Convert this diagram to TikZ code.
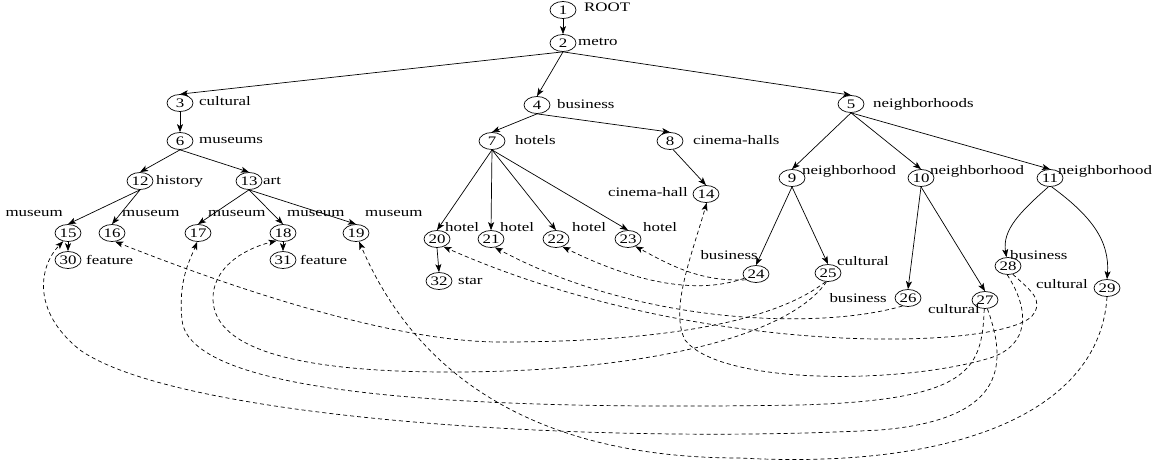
\documentclass[tikz,border=0pt]{standalone}
\usepackage{fontspec}
\setmainfont{Liberation Serif}[FakeStretch=1.3]
\usetikzlibrary{arrows.meta,shapes.geometric}
\begin{document}
\begin{tikzpicture}[x=1pt,y=-1pt,
  nd/.style={draw,ellipse,line width=0.7pt,minimum width=26pt,minimum height=17pt,inner sep=0pt,font=\fontsize{13}{13}\selectfont},
  lw/.style={inner sep=0pt,anchor=mid west,font=\fontsize{13}{13}\selectfont},
  le/.style={inner sep=0pt,anchor=mid east,font=\fontsize{13}{13}\selectfont},
  ed/.style={-{Stealth[length=8pt,width=6pt,inset=2pt]},line width=0.7pt},
  xr/.style={ed,dash pattern=on 4pt off 3pt}]
\path[use as bounding box] (0,0) rectangle (1158,461);
% nodes
\node[nd] (n1) at (563,10) {1};
\node[nd] (n2) at (563,43) {2};
\node[nd] (n3) at (180,103) {3};
\node[nd] (n4) at (537,105) {4};
\node[nd] (n5) at (851,104) {5};
\node[nd] (n6) at (180,141) {6};
\node[nd] (n7) at (492,141) {7};
\node[nd] (n8) at (670,141) {8};
\node[nd] (n9) at (792,178) {9};
\node[nd] (n10) at (921,178) {10};
\node[nd] (n11) at (1050,178) {11};
\node[nd] (n12) at (140,181) {12};
\node[nd] (n13) at (249,181) {13};
\node[nd] (n14) at (706,194) {14};
\node[nd] (n15) at (68,233) {15};
\node[nd] (n16) at (112,233) {16};
\node[nd] (n17) at (198,233) {17};
\node[nd] (n18) at (283,233) {18};
\node[nd] (n19) at (356,233) {19};
\node[nd] (n20) at (437,239) {20};
\node[nd] (n21) at (491,239) {21};
\node[nd] (n22) at (556,239) {22};
\node[nd] (n23) at (628,239) {23};
\node[nd] (n24) at (756,274) {24};
\node[nd] (n25) at (828,273) {25};
\node[nd] (n26) at (908,298) {26};
\node[nd] (n27) at (985,300) {27};
\node[nd] (n28) at (1008,266) {28};
\node[nd] (n29) at (1107,288) {29};
\node[nd] (n30) at (68,260) {30};
\node[nd] (n31) at (283,260) {31};
\node[nd] (n32) at (439,281) {32};
% labels
\node[lw] (l1) at (584,9) {ROOT};
\node[lw] (l2) at (578,43) {metro};
\node[lw] (l3) at (199,103) {cultural};
\node[lw] (l4) at (557,106) {business};
\node[lw] (l5) at (873,105) {neighborhoods};
\node[lw] (l6) at (199,141) {museums};
\node[lw] (l7) at (515,142) {hotels};
\node[lw] (l8) at (693,142) {cinema-halls};
\node[lw] (l9) at (802,172) {neighborhood};
\node[lw] (l10) at (930,172) {neighborhood};
\node[lw] (l11) at (1058,172) {neighborhood};
\node[lw] (l12) at (156,182) {history};
\node[lw] (l13) at (263,182) {art};
\node[le] (l14) at (688,194) {cinema-hall};
\node[le] (l15) at (63,214) {museum};
\node[lw] (l16) at (122,214) {museum};
\node[lw] (l17) at (208,214) {museum};
\node[lw] (l18) at (287,214) {museum};
\node[lw] (l19) at (365,214) {museum};
\node[lw] (l20) at (445,229) {hotel};
\node[lw] (l21) at (500,229) {hotel};
\node[lw] (l22) at (572,229) {hotel};
\node[lw] (l23) at (643,229) {hotel};
\node[le] (l24) at (758,257) {business};
\node[lw] (l25) at (837,263) {cultural};
\node[le] (l26) at (887,300) {business};
\node[le] (l27) at (980,311) {cultural};
\node[lw] (l28) at (1010,257) {business};
\node[le] (l29) at (1088,286) {cultural};
\node[lw] (l30) at (86,262) {feature};
\node[lw] (l31) at (300,262) {feature};
\node[lw] (l32) at (458,282) {star};
% tree edges
\draw[ed] (n1.south) -- (n2.north);
\draw[ed] (n2.south) -- (n3.north);
\draw[ed] (n2.south) -- (n4.north);
\draw[ed] (n2.south) -- (n5.north);
\draw[ed] (n3.south) -- (n6.north);
\draw[ed] (n4.south) -- (n7.north);
\draw[ed] (n4.south) -- (n8.north);
\draw[ed] (n5.south) -- (n9.north);
\draw[ed] (n5.south) -- (n10.north);
\draw[ed] (n5.south) -- (n11.north);
\draw[ed] (n6.south) -- (n12.north);
\draw[ed] (n6.south) -- (n13.north);
\draw[ed] (n7.south) -- (n20.north);
\draw[ed] (n7.south) -- (n21.north);
\draw[ed] (n7.south) -- (n22.north);
\draw[ed] (n7.south) -- (n23.north);
\draw[ed] (n8.-70) -- (n14.north);
\draw[ed] (n9.south) -- (n24.north);
\draw[ed] (n9.south) -- (n25.north);
\draw[ed] (n10.south) -- (n26.north);
\draw[ed] (n10.south) -- (n27.north);
\draw[ed] (n11.-100) .. controls (1020,212) and (1002,230) .. (n28.100);
\draw[ed] (n11.-80) .. controls (1090,215) and (1110,240) .. (n29.north);
\draw[ed] (n12.south) -- (n15.north);
\draw[ed] (n12.south) -- (n16.north);
\draw[ed] (n13.south) -- (n17.north);
\draw[ed] (n13.south) -- (n18.north);
\draw[ed] (n13.south) -- (n19.north);
\draw[ed] (n15.south) -- (n30.north);
\draw[ed] (n18.south) -- (n31.north);
\draw[ed] (n20.south) -- (n32.north);
% cross links
\draw[xr] (n24.210) .. controls (700,282) and (670,265) .. (n23.-45);
\draw[xr] (n24.200) .. controls (700,294) and (640,285) .. (n22.-50);
\draw[xr] (n26.235) .. controls (820,330) and (640,325) .. (n21.-65);
\draw[xr] (n28.-60) .. controls (1030,290) and (1045,300) .. (1032,316)
  .. controls (1000,350) and (700,360) .. (n20.-50);
\draw[xr] (n28.-95) .. controls (1030,310) and (1030,345) .. (990,358)
  .. controls (900,385) and (720,385) .. (685,340)
  .. controls (670,310) and (690,260) .. (n14.-85);
\draw[xr] (n25.-105) .. controls (770,325) and (650,342) .. (500,342)
  .. controls (400,342) and (250,295) .. (n16.-70);
\draw[xr] (n25.-100) .. controls (790,335) and (650,372) .. (450,372)
  .. controls (300,372) and (215,350) .. (213,300)
  .. controls (212,270) and (240,250) .. (n18.-130);
\draw[xr] (n27.-95) .. controls (982,370) and (970,400) .. (800,405)
  .. controls (500,410) and (190,400) .. (182,320)
  .. controls (178,280) and (190,260) .. (n17.-95);
\draw[xr] (n27.-75) .. controls (1010,370) and (1000,420) .. (880,430)
  .. controls (600,445) and (180,420) .. (80,350)
  .. controls (30,310) and (40,265) .. (n15.-120);
\draw[xr] (n29.south) .. controls (1100,410) and (960,470) .. (740,458)
  .. controls (620,458) and (440,430) .. (n19.-70);
\end{tikzpicture}
\end{document}
